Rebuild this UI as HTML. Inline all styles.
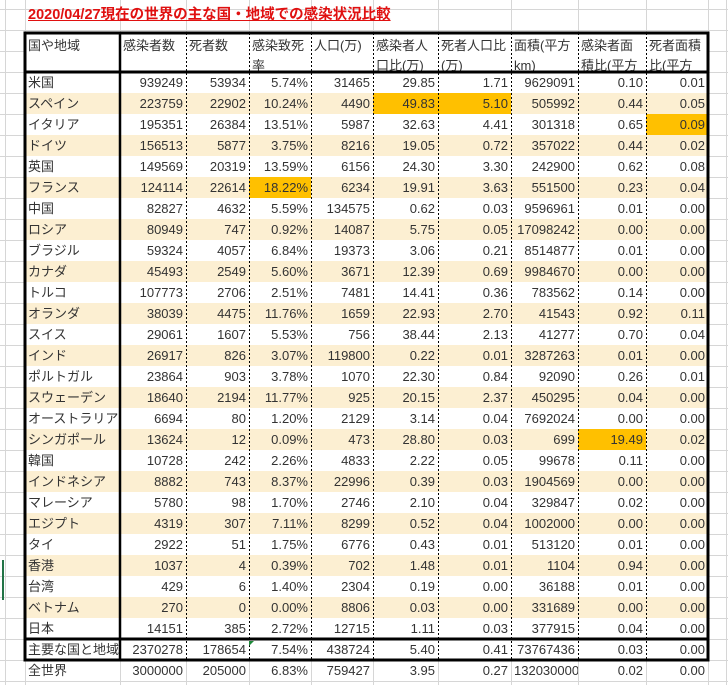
<!DOCTYPE html>
<html><head><meta charset="utf-8">
<style>
body{margin:0;width:728px;height:685px;background:#fff;position:relative;overflow:hidden;font-family:"Liberation Sans","Noto Sans CJK JP",sans-serif;}
.c{position:absolute;font-size:13px;color:#333;box-sizing:border-box;white-space:nowrap;overflow:hidden;line-height:21px;padding:0 3px;}
.r{text-align:right;}
.h{line-height:20px;padding-top:3px;white-space:normal;}
#title{position:absolute;left:28px;top:3px;font-size:14.5px;font-weight:bold;color:#e01010;text-decoration:underline;}
svg{position:absolute;left:0;top:0;}
</style></head><body>
<svg id="grid" width="728" height="685"></svg>
<div id="title">2020/04/27現在の世界の主な国・地域での感染状況比較</div>
<div id="cells"></div>
<svg id="borders" width="728" height="685"></svg>
<script>
const cols=[25,120,186,249,311,373,438,511,578,646,708];
const headers=["国や地域","感染者数","死者数","感染致死<br>率","人口(万)","感染者人<br>口比(万)","死者人口比<br>(万)","面積(平方<br>km)","感染者面<br>積比(平方","死者面積<br>比(平方"];
const names=["米国","スペイン","イタリア","ドイツ","英国","フランス","中国","ロシア","ブラジル","カナダ","トルコ","オランダ","スイス","インド","ポルトガル","スウェーデン","オーストラリア","シンガポール","韓国","インドネシア","マレーシア","エジプト","タイ","香港","台湾","ベトナム","日本","主要な国と地域","全世界"];
const infected=["939249","223759","195351","156513","149569","124114","82827","80949","59324","45493","107773","38039","29061","26917","23864","18640","6694","13624","10728","8882","5780","4319","2922","1037","429","270","14151","2370278","3000000"];
const deaths=["53934","22902","26384","5877","20319","22614","4632","747","4057","2549","2706","4475","1607","826","903","2194","80","12","242","743","98","307","51","4","6","0","385","178654","205000"];
const cfr=["5.74%","10.24%","13.51%","3.75%","13.59%","18.22%","5.59%","0.92%","6.84%","5.60%","2.51%","11.76%","5.53%","3.07%","3.78%","11.77%","1.20%","0.09%","2.26%","8.37%","1.70%","7.11%","1.75%","0.39%","1.40%","0.00%","2.72%","7.54%","6.83%"];
const pop=["31465","4490","5987","8216","6156","6234","134575","14087","19373","3671","7481","1659","756","119800","1070","925","2129","473","4833","22996","2746","8299","6776","702","2304","8806","12715","438724","759427"];
const infPop=["29.85","49.83","32.63","19.05","24.30","19.91","0.62","5.75","3.06","12.39","14.41","22.93","38.44","0.22","22.30","20.15","3.14","28.80","2.22","0.39","2.10","0.52","0.43","1.48","0.19","0.03","1.11","5.40","3.95"];
const deathPop=["1.71","5.10","4.41","0.72","3.30","3.63","0.03","0.05","0.21","0.69","0.36","2.70","2.13","0.01","0.84","2.37","0.04","0.03","0.05","0.03","0.04","0.04","0.01","0.01","0.00","0.00","0.03","0.41","0.27"];
const area=["9629091","505992","301318","357022","242900","551500","9596961","17098242","8514877","9984670","783562","41543","41277","3287263","92090","450295","7692024","699","99678","1904569","329847","1002000","513120","1104","36188","331689","377915","73767436","132030000"];
const infArea=["0.10","0.44","0.65","0.44","0.62","0.23","0.01","0.00","0.01","0.00","0.14","0.92","0.70","0.01","0.26","0.04","0.00","19.49","0.11","0.00","0.02","0.00","0.01","0.94","0.01","0.00","0.04","0.03","0.02"];
const deathArea=["0.01","0.05","0.09","0.02","0.08","0.04","0.00","0.00","0.00","0.00","0.00","0.11","0.04","0.00","0.01","0.00","0.00","0.02","0.00","0.00","0.00","0.00","0.00","0.00","0.00","0.00","0.00","0.00","0.00"];
const highlights=[[1,5],[1,6],[2,9],[5,3],[17,8]];
const NS="http://www.w3.org/2000/svg";
const grid=document.getElementById('grid');
function ln(svg,x1,y1,x2,y2,col,w,dash){const l=document.createElementNS(NS,'line');l.setAttribute('x1',x1);l.setAttribute('y1',y1);l.setAttribute('x2',x2);l.setAttribute('y2',y2);l.setAttribute('stroke',col);l.setAttribute('stroke-width',w);if(dash)l.setAttribute('stroke-dasharray',dash);svg.appendChild(l);return l;}
[5].concat(cols).concat([726]).forEach(x=>ln(grid,x+0.5,0,x+0.5,685,'#d6d6d6',1));
for(let y=9;y<685;y+=21)ln(grid,0,y+0.5,728,y+0.5,'#d6d6d6',1);
ln(grid,3,560,3,600,'#217346',2);
const cells=document.getElementById('cells');
const tbl=document.createElement('div');


tbl.style.cssText='position:absolute;left:25px;top:33px;width:683px;height:627px;background:#fff;';
cells.appendChild(tbl);
for(let j=0;j<10;j++){const d=document.createElement('div');d.className='c h';d.innerHTML=headers[j];


d.style.left=cols[j]+'px';d.style.top='33px';d.style.width=(cols[j+1]-cols[j])+'px';d.style.height='39px';cells.appendChild(d);}
const colsData=[names,infected,deaths,cfr,pop,infPop,deathPop,area,infArea,deathArea];
for(let i=0;i<names.length;i++){
 const y=72+21*i;
 if(i<27&&i%2==1){const b=document.createElement('div');
 
 
 b.style.cssText=`position:absolute;left:25px;top:${y}px;width:683px;height:21px;background:#fcefd2;`;cells.appendChild(b);}
 for(let j=0;j<10;j++){
  const d=document.createElement('div');d.className='c'+(j>0?' r':'');d.textContent=colsData[j][i];
  
  
  d.style.left=cols[j]+'px';d.style.top=y+'px';d.style.width=(cols[j+1]-cols[j])+'px';d.style.height='21px';
  if(highlights.some(h=>h[0]==i&&h[1]==j))d.style.background='#ffc000';
  cells.appendChild(d);
 }
}
const bd=document.getElementById('borders');
for(let j=2;j<10;j++)ln(bd,cols[j]+0.5,33,cols[j]+0.5,660,'#000',1,'2,2');
ln(bd,120,33,120,660,'#000',2.5);
ln(bd,25,72,708,72,'#000',3);
ln(bd,25,639,708,639,'#000',3);
const r=document.createElementNS(NS,'rect');r.setAttribute('x',25);r.setAttribute('y',33);r.setAttribute('width',683);r.setAttribute('height',627);r.setAttribute('fill','none');r.setAttribute('stroke','#000');r.setAttribute('stroke-width',3);bd.appendChild(r);
const tri=document.createElementNS(NS,'polygon');tri.setAttribute('points','249,641 254,641 249,646');tri.setAttribute('fill','#1e8b3a');bd.appendChild(tri);
</script>
</body></html>
